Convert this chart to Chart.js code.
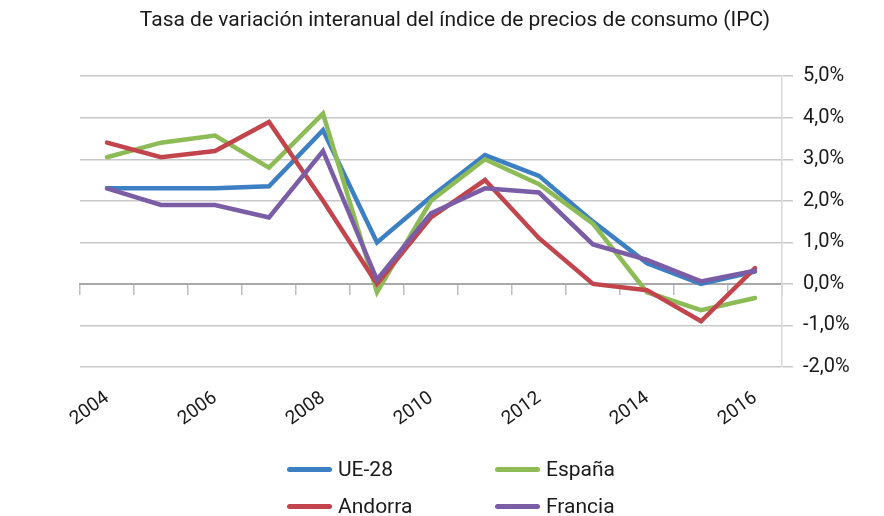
<!DOCTYPE html>
<html>
<head>
<meta charset="utf-8">
<script src="https://cdn.jsdelivr.net/npm/chart.js@4"></script>
<style>
  body { margin: 0; background: #fff; }
  #wrap { position: relative; width: 884px; height: 516px; }
  #legend { position: absolute; left: 287px; top: 456px; display: grid; grid-template-columns: 208px 200px; row-gap: 11px;
            font-family: Roboto, sans-serif; font-size: 21px; color: #1a1a1a; }
  #legend .item { display: flex; align-items: center; height: 26px; }
  #legend .swatch { width: 45px; height: 5px; border-radius: 3px; margin-right: 6px; }
</style>
</head>
<body>
<div id="wrap">
  <canvas id="ipcChart" width="884" height="516"></canvas>
  <div id="legend"></div>
</div>
<script>
const years = ['2004', '2005', '2006', '2007', '2008', '2009', '2010', '2011', '2012', '2013', '2014', '2015', '2016'];
const ue28 = [2.3, 2.3, 2.3, 2.35, 3.7, 1.0, 2.1, 3.1, 2.6, 1.5, 0.5, 0.0, 0.3];
const espana = [3.05, 3.4, 3.57, 2.8, 4.1, -0.2, 2.0, 3.0, 2.4, 1.45, -0.2, -0.63, -0.34];
const andorra = [3.4, 3.05, 3.2, 3.9, 2.0, 0.0, 1.6, 2.5, 1.1, 0.0, -0.15, -0.9, 0.38];
const francia = [2.3, 1.9, 1.9, 1.6, 3.2, 0.1, 1.7, 2.3, 2.2, 0.95, 0.58, 0.06, 0.32];
const yTicks = [-2, -1, 0, 1, 2, 3, 4, 5];

const font = 'Roboto, sans-serif';

function series(label, data, color, order) {
    return { label, data, borderColor: color, backgroundColor: color, borderWidth: 4.5, pointRadius: 0,
             tension: 0, fill: false, order, borderCapStyle: 'round', xAxisID: 'x', yAxisID: 'y' };
}

const chart = new Chart(document.getElementById('ipcChart'), {
    type: 'line',
    data: {
        labels: years,
        datasets: [
            series('UE-28', ue28, '#3c7fc3', 3),
            series('España', espana, '#8dbb56', 2),
            series('Andorra', andorra, '#c2454d', 1),
            series('Francia', francia, '#7b5da6', 0)
        ]
    },
    options: {
        responsive: false,
        animation: false,
        layout: { padding: { left: 26, right: 0, top: 0, bottom: 89 } },
        plugins: {
            legend: { display: false },
            tooltip: { enabled: false },
            title: {
                display: true,
                text: 'Tasa de variación interanual del índice de precios de consumo (IPC)',
                color: '#1a1a1a',
                font: { family: font, size: 21, weight: 'normal' },
                padding: { top: 8, bottom: 43 }
            }
        },
        scales: {
            x: {
                offset: true,
                grid: { display: false },
                border: { display: false },
                ticks: {
                    color: '#1a1a1a', font: { family: font, size: 19 },
                    minRotation: 36, maxRotation: 36, autoSkip: false, padding: 12,
                    callback: (v, i) => (i % 2 === 0 ? years[i] : '')
                },
                afterFit: s => { s.height = 60; s.paddingLeft = 0; s.paddingRight = 0; }
            },
            x2: {
                type: 'category',
                axis: 'x',
                position: { y: 0 },
                offset: true,
                grid: { offset: true, drawOnChartArea: false, tickLength: 10, color: '#bdbdbd', lineWidth: 1.5 },
                border: { color: '#a9a9a9', width: 2 },
                ticks: { display: false, autoSkip: false }
            },
            y: {
                position: 'right',
                min: -2, max: 5,
                afterBuildTicks: s => { s.ticks = yTicks.map(v => ({ value: v })); },
                grid: { color: '#c8c8c8', lineWidth: 1.5, tickLength: 11 },
                border: { color: '#d9d9d9', width: 1.5 },
                ticks: {
                    color: '#1a1a1a', font: { family: font, size: 20 }, padding: 10,
                    callback: v => v.toFixed(1).replace('.', ',') + '%'
                },
                afterFit: s => { s.width = 102; }
            },
            // empty left margin so the title sits where it does in the original
            yl: {
                type: 'linear',
                axis: 'y',
                position: 'left',
                grid: { display: false },
                border: { display: false },
                ticks: { display: false },
                afterFit: s => { s.width = 54; }
            }
        }
    }
});

// two-column legend like the original
const legend = document.getElementById('legend');
chart.data.datasets.forEach(ds => {
    const item = document.createElement('div');
    item.className = 'item';
    item.innerHTML = `<span class="swatch" style="background:${ds.borderColor}"></span><span>${ds.label}</span>`;
    legend.appendChild(item);
});
</script>
</body>
</html>
